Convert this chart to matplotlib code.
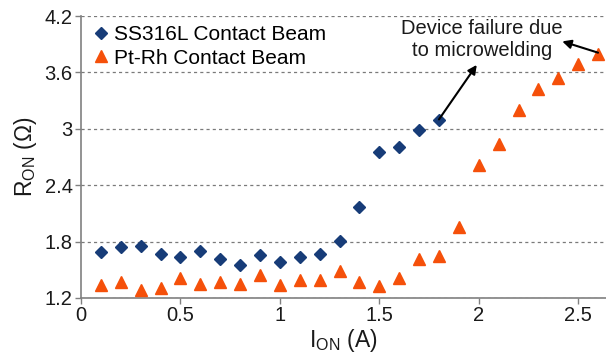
import matplotlib
matplotlib.use("Agg")
import matplotlib.pyplot as plt

plt.rcParams['font.family'] = ['Liberation Sans', 'DejaVu Sans']
plt.rcParams['mathtext.fontset'] = 'custom'
plt.rcParams['mathtext.rm'] = 'Liberation Sans'

# Measured on-resistance vs. current
current_ss = [0.1, 0.2, 0.3, 0.4, 0.5, 0.6, 0.7, 0.8, 0.9, 1.0, 1.1, 1.2, 1.3,
              1.4, 1.5, 1.6, 1.7, 1.8]
ron_ss = [1.69, 1.74, 1.75, 1.67, 1.64, 1.70, 1.61, 1.55, 1.66, 1.58, 1.64, 1.67, 1.81,
          2.17, 2.75, 2.81, 2.99, 3.09]

current_pt = [0.1, 0.2, 0.3, 0.4, 0.5, 0.6, 0.7, 0.8, 0.9, 1.0, 1.1, 1.2, 1.3,
              1.4, 1.5, 1.6, 1.7, 1.8, 1.9, 2.0, 2.1, 2.2, 2.3, 2.4, 2.5, 2.6]
ron_pt = [1.34, 1.37, 1.29, 1.31, 1.41, 1.35, 1.37, 1.35, 1.44, 1.34, 1.39, 1.39, 1.49,
          1.37, 1.33, 1.41, 1.61, 1.65, 1.95, 2.61, 2.84, 3.20, 3.42, 3.54, 3.69, 3.80]

x_ticks = [0, 0.5, 1, 1.5, 2, 2.5]
x_ticklabels = ['0', '0.5', '1', '1.5', '2', '2.5']
y_ticks = [1.2, 1.8, 2.4, 3.0, 3.6, 4.2]
y_ticklabels = ['1.2', '1.8', '2.4', '3', '3.6', '4.2']

fig = plt.figure(figsize=(6.06, 3.56), dpi=100)
ax = fig.add_axes([0.1337, 0.163, 0.8663, 0.792])

ax.plot(current_ss, ron_ss, linestyle='none', marker='D', ms=6.5,
        color='#173c78', label='SS316L Contact Beam', zorder=3)
ax.plot(current_pt, ron_pt, linestyle='none', marker='^', ms=8.5,
        color='#f5500a', label='Pt-Rh Contact Beam', zorder=3)

ax.set_xlim(0, 2.64)
ax.set_ylim(1.2, 4.2)
ax.set_xticks(x_ticks)
ax.set_xticklabels(x_ticklabels)
ax.set_yticks(y_ticks)
ax.set_yticklabels(y_ticklabels)

ax.yaxis.grid(True, linestyle=(0, (2.5, 2.5)), color='#7a7a7a', linewidth=0.9)
ax.set_axisbelow(True)
for side in ('top', 'right'):
    ax.spines[side].set_visible(False)
for side in ('left', 'bottom'):
    ax.spines[side].set_color('#808080')
    ax.spines[side].set_linewidth(1.2)
ax.tick_params(axis='both', direction='out', length=4, width=1, color='#808080',
               labelsize=14.5, labelcolor='#1a1a1a', pad=2)

ax.set_xlabel(r'I$_{\mathregular{ON}}$ (A)', fontsize=16.5, color='#1a1a1a', labelpad=1)
ax.set_ylabel(r'R$_{\mathregular{ON}}$ ($\Omega$)', fontsize=16.5, color='#1a1a1a', labelpad=4)

ax.legend(loc='upper left', frameon=False, fontsize=15, handletextpad=0.15,
          borderaxespad=0.15, labelspacing=0.2, handlelength=1.0,
          borderpad=0.3, bbox_to_anchor=(0.0, 1.0))

ax.text(2.017, 3.95, 'Device failure due\nto microwelding', ha='center', va='center',
        fontsize=14.5, color='#1a1a1a', linespacing=1.15)
arrow_style = dict(arrowstyle='-|>', color='black', lw=1.5, mutation_scale=13,
                   shrinkA=0, shrinkB=0)
ax.annotate('', xy=(1.99, 3.68), xytext=(1.80, 3.10), arrowprops=arrow_style)
ax.annotate('', xy=(2.42, 3.93), xytext=(2.60, 3.81), arrowprops=arrow_style)

fig.savefig('out.png', dpi=100)
